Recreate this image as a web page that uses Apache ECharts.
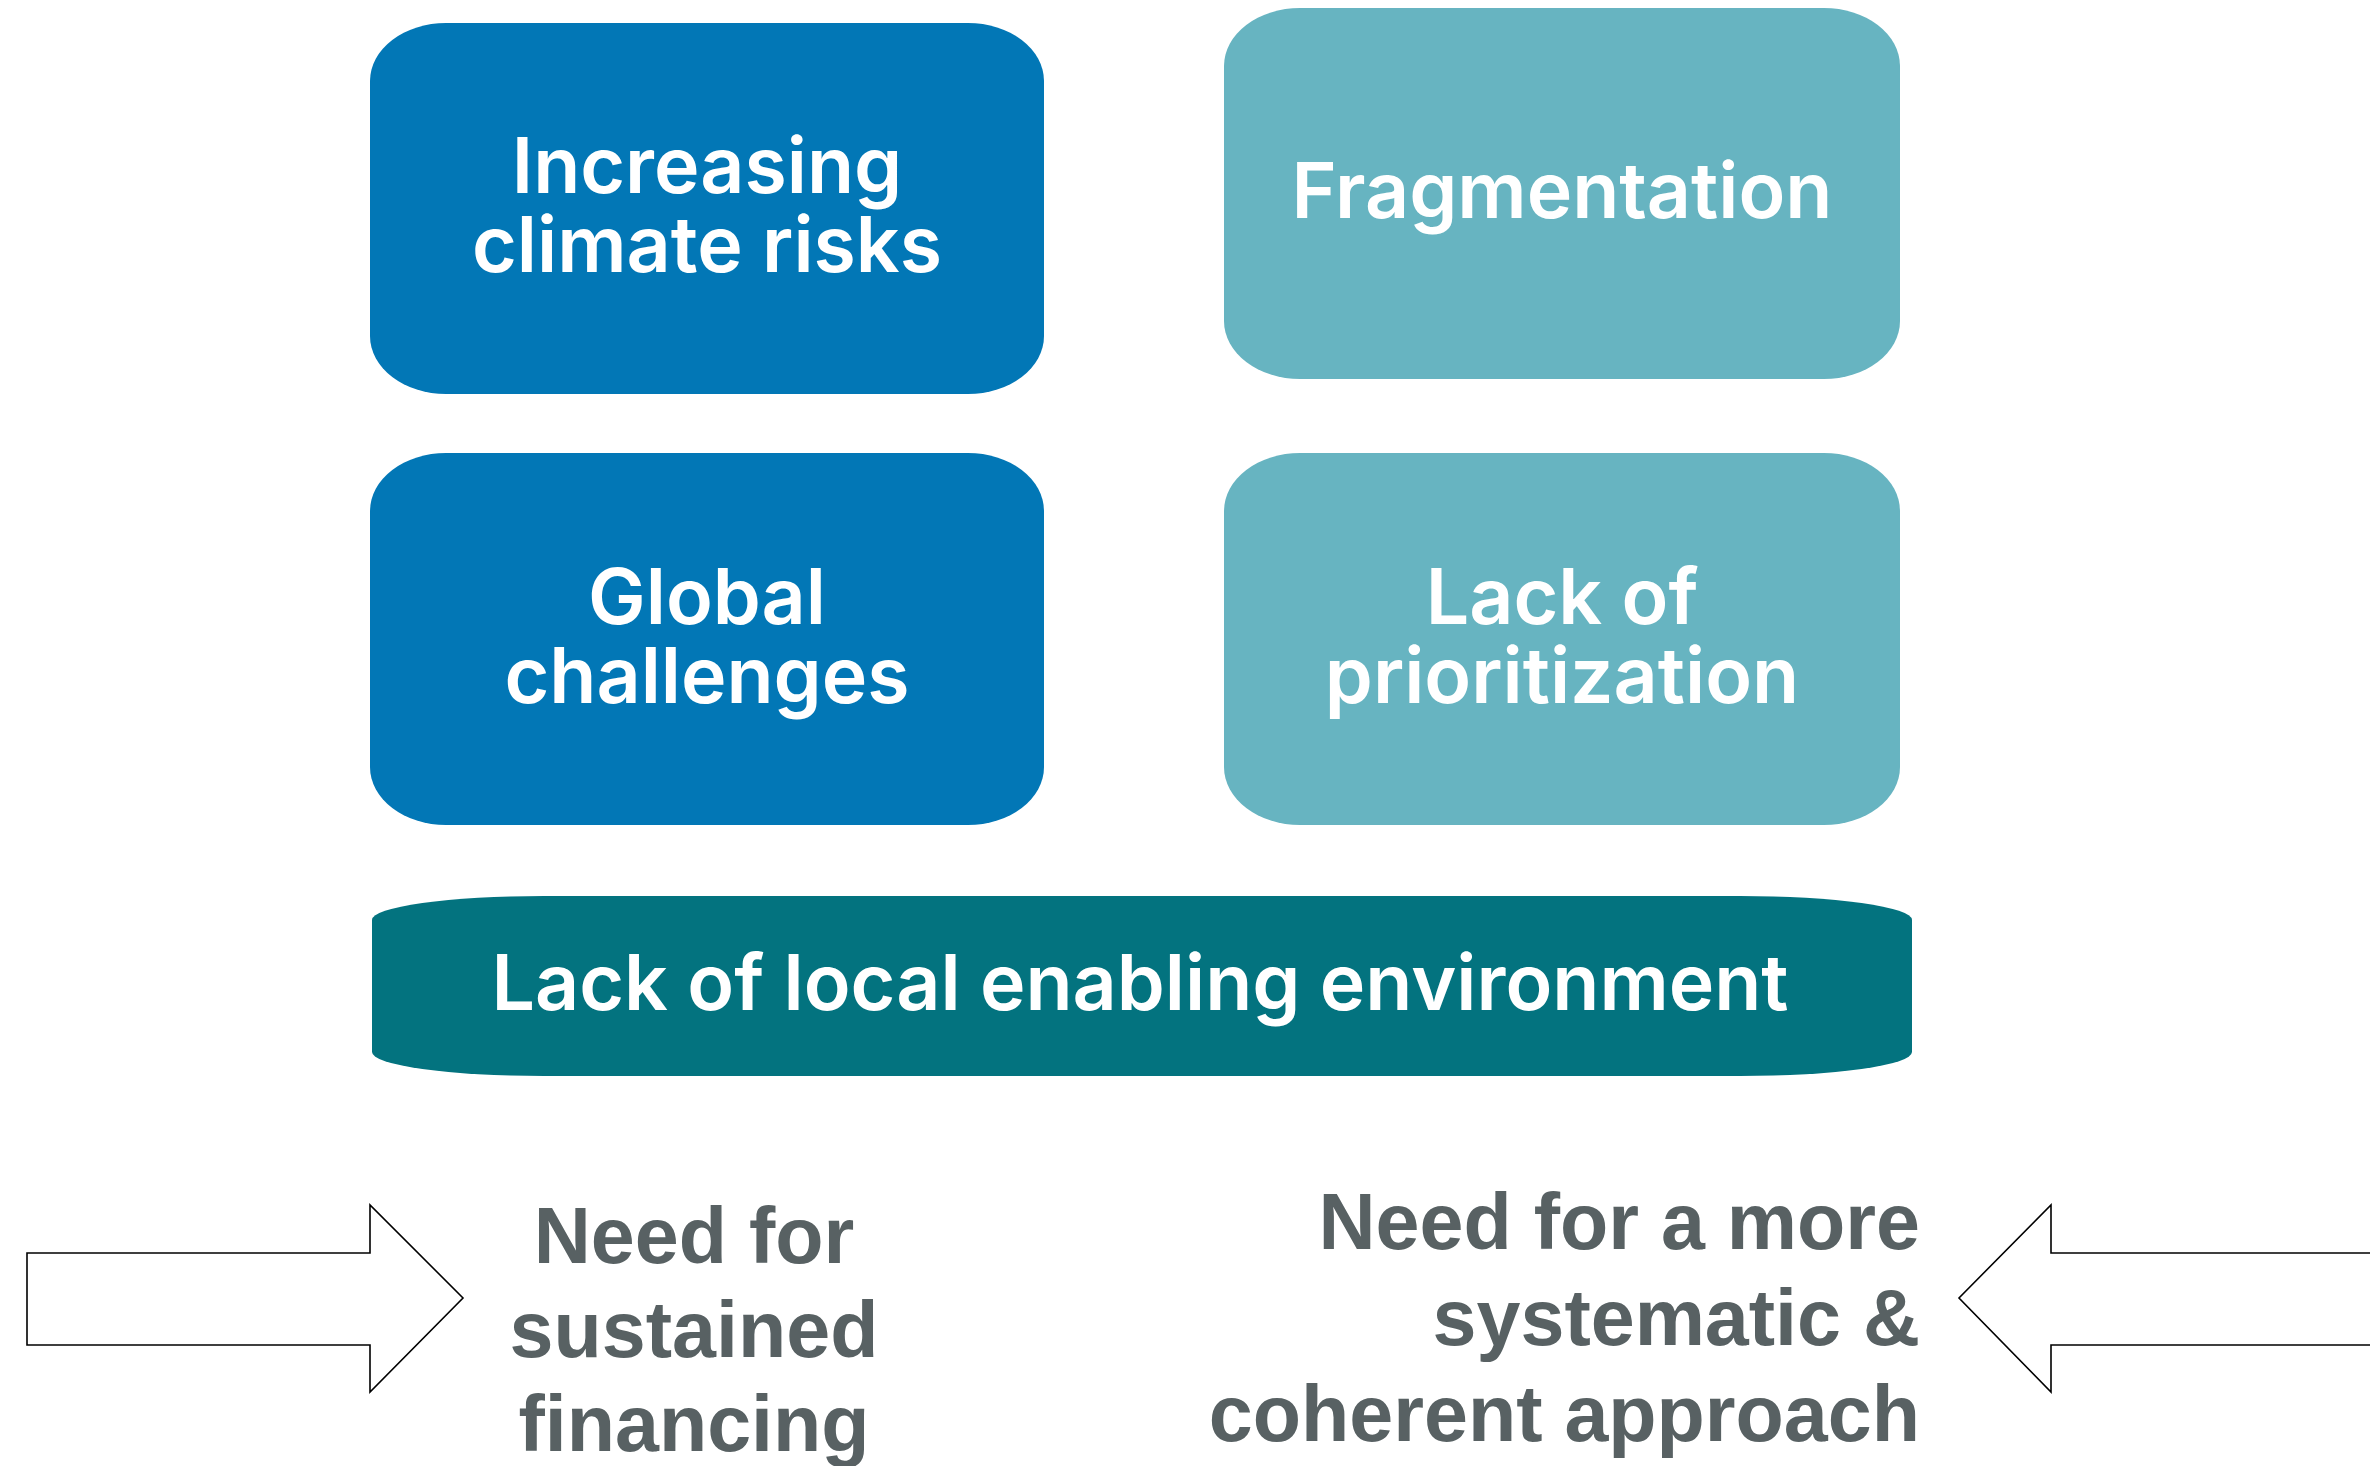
<!DOCTYPE html>
<html>
<head>
<meta charset="utf-8">
<script src="https://cdn.jsdelivr.net/npm/echarts@6/dist/echarts.min.js"></script>
<style>
html,body{margin:0;padding:0;background:#ffffff;}
#chart{width:2370px;height:1466px;}
</style>
</head>
<body>
<div id="chart"></div>
<script>
// ---- content ----
const boxLabels = ['Increasing\nclimate risks', 'Fragmentation', 'Global\nchallenges', 'Lack of\nprioritization'];
const boxGroups = ['driver', 'gap', 'driver', 'gap'];
const baseLabel = 'Lack of local enabling environment';
const needLabels = ['Need for\nsustained\nfinancing', 'Need for a more\nsystematic &\ncoherent approach'];
const arrowDirections = ['right', 'left'];

// ---- layout (diagram units, mapped through hidden axes) ----
const boxRects = [[370, 23, 1044, 394], [1224, 8, 1900, 379], [370, 453, 1044, 825], [1224, 453, 1900, 825]];
const baseRect = [372, 896, 1912, 1076];
const arrowShapes = [
  [[27, 1253], [370, 1253], [370, 1205], [463, 1298], [370, 1392], [370, 1345], [27, 1345]],
  [[2400, 1253], [2051, 1253], [2051, 1205], [1959, 1298], [2051, 1392], [2051, 1345], [2400, 1345]]
];
const needAnchors = [[694, 1335, 'center', 94], [1920, 1323, 'right', 96]];

const colors = { driver: '#0277B6', gap: '#67B4C1', base: '#03737F', need: '#586163' };
const whiteFont = 'Inter, "Noto Sans", sans-serif';
const grayFont = '"Liberation Sans", Arial, sans-serif';

function roundPath(x0, y0, x1, y1, rx, ry) {
  return 'M' + (x0 + rx) + ' ' + y0 + ' L' + (x1 - rx) + ' ' + y0 +
    ' A' + rx + ' ' + ry + ' 0 0 1 ' + x1 + ' ' + (y0 + ry) +
    ' L' + x1 + ' ' + (y1 - ry) +
    ' A' + rx + ' ' + ry + ' 0 0 1 ' + (x1 - rx) + ' ' + y1 +
    ' L' + (x0 + rx) + ' ' + y1 +
    ' A' + rx + ' ' + ry + ' 0 0 1 ' + x0 + ' ' + (y1 - ry) +
    ' L' + x0 + ' ' + (y0 + ry) +
    ' A' + rx + ' ' + ry + ' 0 0 1 ' + (x0 + rx) + ' ' + y0 + ' Z';
}

const chart = echarts.init(document.getElementById('chart'), null, { renderer: 'canvas' });

function boxItem(params, api) {
  const i = params.dataIndex;
  const r = boxRects[i];
  const p0 = api.coord([r[0], r[1]]);
  const p1 = api.coord([r[2], r[3]]);
  const cx = (p0[0] + p1[0]) / 2, cy = (p0[1] + p1[1]) / 2;
  return {
    type: 'group',
    children: [
      { type: 'path', shape: { pathData: roundPath(p0[0], p0[1], p1[0], p1[1], 76, 58) },
        style: { fill: colors[boxGroups[i]] } },
      { type: 'text', style: { text: boxLabels[i], x: cx, y: cy + 1, align: 'center', verticalAlign: 'middle',
        fill: '#ffffff', fontSize: 77, fontWeight: 600, fontFamily: whiteFont, lineHeight: 79 } }
    ]
  };
}

function baseItem(params, api) {
  const p0 = api.coord([baseRect[0], baseRect[1]]);
  const p1 = api.coord([baseRect[2], baseRect[3]]);
  const cx = (p0[0] + p1[0]) / 2, cy = (p0[1] + p1[1]) / 2;
  return {
    type: 'group',
    children: [
      { type: 'path', shape: { pathData: roundPath(p0[0], p0[1], p1[0], p1[1], 172, 24) },
        style: { fill: colors.base } },
      { type: 'text', style: { text: baseLabel, x: cx - 2, y: cy + 1, align: 'center', verticalAlign: 'middle',
        fill: '#ffffff', fontSize: 77, fontWeight: 600, fontFamily: whiteFont } }
    ]
  };
}

function arrowItem(params, api) {
  const pts = arrowShapes[params.dataIndex].map(function (p) { return api.coord(p); });
  return { type: 'polygon', shape: { points: pts }, style: { fill: '#ffffff', stroke: '#000000', lineWidth: 1.6 } };
}

function needItem(params, api) {
  const a = needAnchors[params.dataIndex];
  const p = api.coord([a[0], a[1]]);
  return { type: 'text', style: { text: needLabels[params.dataIndex], x: p[0], y: p[1], align: a[2], verticalAlign: 'middle',
    fill: colors.need, fontSize: 79, fontWeight: 'bold', fontFamily: grayFont, lineHeight: a[3] } };
}

chart.setOption({
  backgroundColor: '#ffffff',
  animation: false,
  grid: { left: 0, right: 0, top: 0, bottom: 0 },
  xAxis: { type: 'value', min: 0, max: 2370, show: false },
  yAxis: { type: 'value', min: 0, max: 1466, inverse: true, show: false },
  series: [
    { type: 'custom', name: 'boxes', coordinateSystem: 'cartesian2d', renderItem: boxItem,
      data: boxLabels.map(function (l, i) { return [(boxRects[i][0] + boxRects[i][2]) / 2, (boxRects[i][1] + boxRects[i][3]) / 2]; }) },
    { type: 'custom', name: 'base', coordinateSystem: 'cartesian2d', renderItem: baseItem,
      data: [[(baseRect[0] + baseRect[2]) / 2, (baseRect[1] + baseRect[3]) / 2]] },
    { type: 'custom', name: 'arrows', coordinateSystem: 'cartesian2d', renderItem: arrowItem,
      data: arrowDirections.map(function (d, i) { return arrowShapes[i][3]; }) },
    { type: 'custom', name: 'needs', coordinateSystem: 'cartesian2d', renderItem: needItem,
      data: needLabels.map(function (l, i) { return [needAnchors[i][0], needAnchors[i][1]]; }) }
  ]
});
</script>
</body>
</html>
